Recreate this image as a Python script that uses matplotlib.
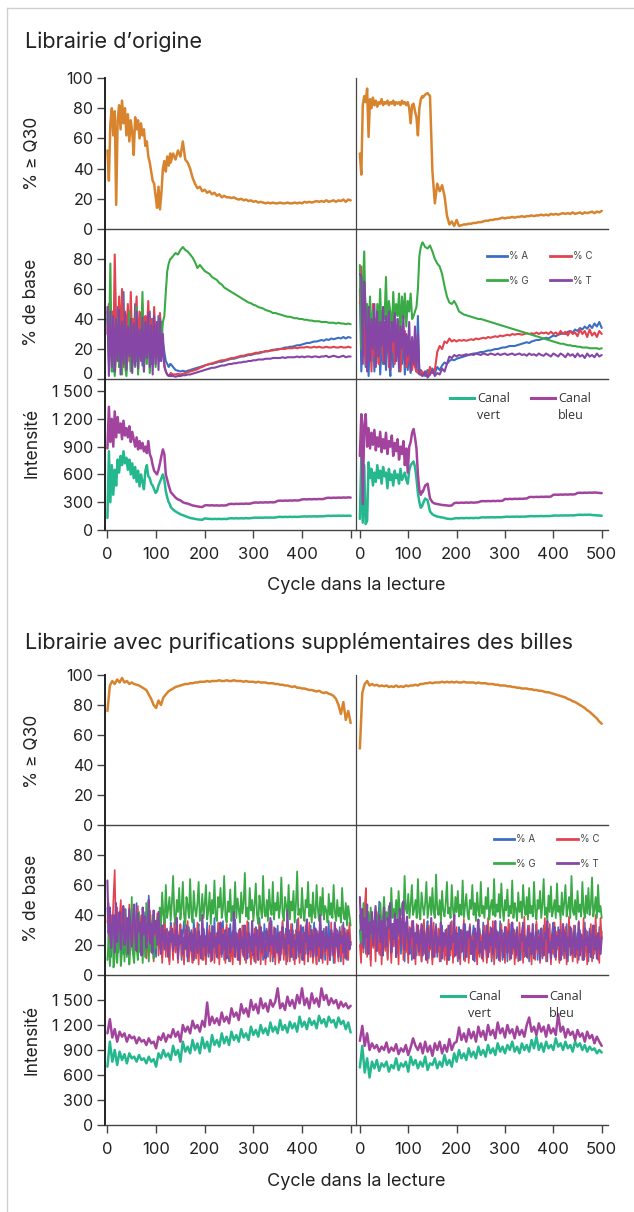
import matplotlib
matplotlib.use("Agg")
import matplotlib.pyplot as plt
import matplotlib.transforms as mtransforms
from matplotlib.lines import Line2D

plt.rcParams['font.family'] = ['Inter', 'DejaVu Sans']

# ---------------- data ----------------
# cycle grids (x values)
cycles_top = list(range(0, 130, 3)) + list(range(130, 501, 5))
cycles_bot = list(range(0, 501, 5))
cycles_bot_fine = [i * 2.5 for i in range(201)]

# ===== Panel 1 : Librairie d'origine =====
q30_o_r1 = [52, 32, 70, 80, 62, 78, 16, 72, 82, 66,
            85, 70, 80, 62, 76, 58, 72, 64, 49, 74,
            66, 72, 60, 70, 62, 66, 55, 58, 48, 44,
            38, 32, 30, 22, 14, 28, 13, 24, 40, 45,
            38, 48, 42, 50] + [
            44, 50, 46, 52, 48, 58, 46, 44, 40, 34,
            30, 27, 28, 25, 26, 24, 25, 23, 24, 22,
            23, 21, 22, 21, 21, 20.5, 21, 20, 19.5, 20,
            19, 19.5, 18.5, 19, 18, 18.5, 17.5, 18, 17.5, 17,
            17.5, 17, 17.5, 17, 17, 17.5, 17, 17, 17.5, 17,
            17, 17.5, 17, 17.5, 17, 18, 17.5, 18, 17.5, 18,
            18.5, 18, 18.5, 18, 19, 18, 18.5, 19, 18, 19,
            18.5, 19.5, 18, 19.5, 19]
q30_o_r2 = [50, 36, 82, 88, 84, 93, 61, 86, 80, 87,
            82, 85, 81, 84, 83, 86, 82, 84, 83, 85,
            82, 84, 83, 85, 82, 84, 83, 84, 82, 85,
            83, 84, 82, 84, 80, 70, 82, 83, 78, 74,
            62, 80, 86, 88] + [
            87, 89, 90, 88, 38, 17, 30, 25, 29, 22,
            9, 3, 5, 2, 6, 2, 2.5, 3, 3, 3.5,
            3.5, 4, 4, 4.5, 4.5, 5, 5.5, 5.5, 6, 6,
            6.5, 6.5, 7, 7.5, 7, 7.5, 7.5, 8, 7.5, 8,
            8, 8.5, 8, 8.5, 8.5, 9, 8.5, 9, 9, 9.5,
            9, 9.5, 9, 10, 9.5, 10, 9.5, 10, 10.5, 10,
            10.5, 10, 11, 10, 10.5, 11, 10, 11, 10.5, 11,
            11.5, 10.5, 11.5, 11, 12]

base_o_r1_A = [40, 10, 30, 45, 5, 35, 20, 48, 8, 42,
               15, 58, 10, 38, 22, 45, 6, 40, 18, 50,
               12, 35, 25, 44, 9, 40, 16, 38, 28, 45,
               10, 40, 20, 35, 15, 42, 12, 38, 25, 18,
               12, 10, 8, 10] + [
               10, 8, 6, 5.5, 5, 5.5, 5, 5.5, 6, 6.5,
               7, 7.5, 8, 8.5, 9, 9.5, 10, 10, 10.5, 11,
               11.5, 11.5, 12, 12.5, 13, 13.5, 13.5, 14, 14.5, 15,
               15, 15.5, 16, 16, 16.5, 17, 17, 17.5, 18, 18.5,
               18.5, 19, 19.5, 19.5, 20, 20, 20.5, 21, 21, 21.5,
               21.5, 22, 22.5, 22.5, 23, 23.5, 24, 24, 24.5, 25,
               25, 25.5, 26, 25.5, 26.5, 26, 27, 26.5, 27, 27.5,
               27, 28, 27, 28, 27.5]
base_o_r1_C = [30, 50, 20, 45, 10, 83, 35, 15, 55, 25,
               60, 8, 45, 30, 50, 12, 58, 20, 40, 35,
               55, 15, 45, 25, 50, 10, 42, 30, 52, 18,
               40, 12, 48, 22, 38, 15, 44, 28, 20, 10,
               5, 3, 2, 2] + [
               4, 3, 3, 3.5, 3, 3.5, 4, 4.5, 5, 5.5,
               6, 6.5, 7.5, 8, 9, 9.5, 10, 10.5, 11, 11.5,
               12, 12.5, 12.5, 13, 13.5, 14, 14, 14.5, 15, 15.5,
               15.5, 16, 16.5, 16.5, 17, 17.5, 17.5, 18, 18, 18.5,
               18.5, 19, 19, 19.5, 19.5, 20, 20, 20, 20.5, 20.5,
               20.5, 21, 20.5, 21, 21, 21, 21.5, 21, 21, 21.5,
               21, 21.5, 21, 21, 21.5, 21, 21, 21.5, 21, 21,
               21.5, 21, 21, 21.5, 21]
base_o_r1_G = [45, 20, 77, 5, 30, 2, 15, 40, 8, 25,
               3, 35, 10, 2, 20, 45, 5, 28, 12, 8,
               48, 3, 25, 15, 58, 5, 30, 10, 38, 4,
               20, 12, 35, 8, 30, 15, 40, 25, 38, 42,
               58, 72, 77, 80] + [
               80, 82, 84, 83, 86, 88, 86, 85, 83, 81,
               78, 74, 76, 74, 72, 71, 70, 68, 67, 66,
               64, 63, 61, 60, 59, 58, 57, 56, 55, 54,
               53, 52, 51, 50.5, 49.5, 49, 48, 47.5, 47, 46,
               45.5, 45, 44, 44, 43.5, 43, 42.5, 42, 41.5, 41.5,
               41, 40.5, 40.5, 40, 40, 39.5, 39.5, 39, 39, 38.5,
               38.5, 38.5, 38, 38, 38, 37.5, 37.5, 37.5, 37, 37.5,
               37, 37, 36.5, 37, 36.5]
base_o_r1_T = [48, 2, 45, 8, 42, 5, 40, 12, 46, 3,
               38, 10, 44, 6, 35, 15, 40, 4, 37, 9,
               45, 7, 33, 12, 41, 5, 38, 14, 44, 8,
               36, 3, 42, 10, 38, 6, 40, 12, 30, 8,
               5, 3, 2, 3] + [
               2, 2, 1.5, 2, 2, 2.5, 2.5, 3, 3, 3.5,
               4, 4.5, 5, 5.5, 6, 6.5, 7, 7.5, 7.5, 8,
               8.5, 9, 9, 9.5, 10, 10, 10.5, 10.5, 11, 11,
               11.5, 11.5, 12, 12, 12.5, 12.5, 13, 13, 13, 13.5,
               13.5, 13.5, 14, 14, 14, 14, 14.5, 14, 14.5, 14.5,
               14.5, 14.5, 15, 14.5, 15, 14.5, 15, 15, 14.5, 15,
               15, 14.5, 15, 15, 15.5, 14.5, 15, 15.5, 15, 14.5,
               15, 15.5, 14.5, 15, 15]

base_o_r2_A = [60, 5, 40, 25, 8, 45, 2, 30, 12, 35,
               5, 28, 15, 40, 3, 25, 10, 38, 6, 30,
               15, 2, 35, 8, 25, 12, 40, 5, 20, 10,
               32, 3, 28, 6, 22, 4, 15, 10, 20, 5,
               42, 3, 6, 3] + [
               4, 2, 6, 3, 7, 4, 8, 6, 9, 11,
               10, 12, 13, 12.5, 13.5, 14, 14.5, 15, 15.5, 16,
               16.5, 17, 17, 17.5, 18, 18, 18.5, 19, 19, 19.5,
               20, 20, 20.5, 21, 21, 21.5, 22, 22, 22, 22.5,
               23, 23.5, 24, 24.5, 24, 25, 25.5, 26, 26, 26.5,
               27, 27.5, 27, 28, 29, 28.5, 29.5, 30, 30.5, 30,
               31.5, 32, 31, 33, 32, 34, 33, 35, 33.5, 36,
               34, 37, 35, 38, 34]
base_o_r2_C = [50, 75, 30, 55, 10, 45, 20, 38, 5, 50,
               15, 40, 25, 10, 45, 30, 12, 35, 20, 42,
               8, 30, 18, 45, 10, 28, 15, 38, 5, 25,
               20, 32, 8, 18, 12, 25, 6, 15, 8, 5,
               4, 6, 3, 5] + [
               3, 5, 2, 8, 4, 6, 18, 22, 20, 25,
               24, 27, 25, 26, 25, 26, 25.5, 26, 25.5, 26,
               26.5, 26, 27, 26.5, 27, 27.5, 27, 28, 27.5, 28,
               28.5, 28, 29, 28.5, 29, 29.5, 29, 30, 29.5, 30,
               30, 29.5, 30, 30.5, 30, 30.5, 30, 31, 30, 31,
               30.5, 31, 30, 31.5, 30, 31, 29.5, 32, 30, 31.5,
               29, 32, 30, 31, 28.5, 33, 30, 32, 28, 33,
               29, 31, 28, 32, 30]
base_o_r2_G = [76, 20, 60, 85, 35, 50, 25, 55, 30, 45,
               40, 20, 50, 35, 60, 25, 48, 40, 68, 30,
               52, 45, 28, 58, 38, 50, 42, 57, 30, 55,
               40, 57, 35, 52, 45, 57, 40, 42, 45, 48,
               60, 82, 88, 91] + [
               91, 88, 87, 89, 85, 80, 77, 75, 70, 62,
               55, 51, 50, 52, 49, 45, 44, 43, 42.5, 42,
               41.5, 41, 40.5, 40, 40, 39.5, 39, 38.5, 38, 37.5,
               37, 36.5, 36, 35.5, 35, 34.5, 34, 33.5, 33, 32.5,
               32, 31.5, 31, 30.5, 30, 29.5, 29, 28.5, 28, 27.5,
               27, 26.5, 26, 25.5, 25, 24.5, 24, 23.5, 23.5, 23,
               22.5, 22.5, 22, 22, 21.5, 21.5, 21, 21, 21, 20.5,
               20.5, 20.5, 20.5, 20, 20.5]
base_o_r2_T = [70, 68, 10, 65, 45, 5, 48, 12, 40, 20,
               50, 8, 45, 15, 38, 22, 48, 10, 42, 18,
               45, 6, 38, 25, 44, 12, 40, 8, 35, 20,
               42, 10, 30, 15, 38, 5, 28, 10, 35, 8,
               30, 4, 3, 2] + [
               2, 5, 1, 3, 6, 2, 4, 3, 7, 5,
               10, 15, 14, 16, 15, 16, 15.5, 16, 16.5, 16,
               16.5, 16, 17, 16.5, 16, 17, 16.5, 16, 17, 16.5,
               16, 17, 16, 16.5, 17, 16, 16.5, 17, 16, 16.5,
               17, 16, 16.5, 15.5, 17, 16, 16.5, 15.5, 17, 16,
               15.5, 17, 16, 15, 17, 16, 15, 17, 16, 14.5,
               17, 15.5, 16.5, 14.5, 17, 15, 16, 14, 17, 15,
               16, 14.5, 17, 15, 16]

int_o_r1_vert = [130, 850, 300, 700, 380, 650, 480, 760, 620, 800,
                 700, 850, 720, 780, 650, 760, 600, 720, 560, 680,
                 520, 640, 470, 600, 520, 440, 640, 700, 580, 560,
                 500, 480, 440, 400, 420, 480, 520, 560, 600, 540,
                 420, 350, 300, 270] + [
                 250, 220, 200, 185, 170, 160, 150, 140, 130, 125,
                 120, 115, 112, 110, 125, 122, 120, 118, 120, 118,
                 120, 118, 120, 118, 125, 127, 125, 127, 125, 127,
                 125, 128, 126, 128, 132, 134, 132, 134, 132, 135,
                 133, 135, 133, 135, 140, 142, 140, 142, 140, 143,
                 141, 143, 141, 143, 145, 147, 145, 147, 146, 148,
                 146, 148, 147, 149, 152, 154, 152, 154, 153, 155,
                 153, 155, 153, 155, 153]
int_o_r1_bleu = [880, 1330, 950, 1200, 900, 1280, 1000, 1220, 1050, 1150,
                 980, 1180, 1020, 1100, 1000, 1120, 950, 1060, 980, 900,
                 1000, 870, 960, 880, 940, 850, 900, 830, 960, 820,
                 780, 700, 640, 620, 600, 650, 720, 800, 870, 820,
                 600, 540, 480, 430] + [
                 410, 380, 350, 330, 320, 300, 290, 285, 275, 265,
                 260, 255, 250, 248, 265, 268, 265, 267, 264, 266,
                 263, 266, 264, 267, 280, 282, 280, 283, 281, 284,
                 282, 285, 283, 286, 295, 297, 295, 298, 296, 299,
                 297, 300, 298, 301, 315, 317, 315, 318, 316, 319,
                 317, 320, 318, 321, 330, 332, 330, 333, 331, 334,
                 332, 335, 333, 336, 346, 348, 346, 349, 347, 350,
                 348, 351, 349, 352, 350]
int_o_r2_vert = [120, 800, 80, 700, 65, 100, 730, 560, 660, 480,
                 620, 520, 700, 560, 640, 500, 680, 580, 620, 450,
                 660, 540, 600, 480, 640, 560, 600, 500, 660, 540,
                 580, 620, 540, 500, 640, 700, 720, 740, 680, 560,
                 400, 300, 240, 260] + [
                 280, 340, 320, 200, 170, 155, 145, 140, 135, 130,
                 122, 120, 118, 125, 128, 126, 129, 127, 130, 128,
                 130, 128, 131, 129, 135, 137, 135, 137, 136, 138,
                 136, 138, 137, 139, 142, 144, 142, 144, 143, 145,
                 143, 145, 144, 146, 148, 150, 148, 150, 149, 151,
                 149, 151, 150, 152, 155, 157, 155, 157, 156, 158,
                 156, 158, 157, 159, 163, 165, 163, 165, 164, 166,
                 162, 160, 158, 156, 154]
int_o_r2_bleu = [800, 1250, 280, 1130, 1250, 900, 1100, 880, 1050, 920,
                 1080, 860, 1000, 900, 1060, 840, 980, 880, 1050, 820,
                 960, 900, 1020, 800, 940, 850, 980, 760, 900, 820,
                 960, 700, 880, 620, 900, 950, 1050, 1090, 1000, 880,
                 600, 430, 380, 420] + [
                 410, 480, 500, 340, 300, 285, 280, 275, 270, 268,
                 265, 262, 265, 290, 295, 292, 296, 293, 297, 294,
                 298, 295, 297, 300, 310, 312, 310, 313, 311, 314,
                 312, 315, 313, 316, 335, 333, 336, 334, 337, 335,
                 338, 336, 339, 340, 355, 357, 355, 358, 356, 359,
                 357, 360, 358, 361, 380, 382, 380, 383, 381, 384,
                 382, 385, 383, 386, 400, 402, 400, 403, 401, 404,
                 402, 405, 403, 400, 398]

# ===== Panel 2 : Librairie avec purifications supplementaires =====
q30_p_r1 = [76, 93, 96, 94, 97, 95, 98, 95, 96, 94,
            95, 94, 93.5, 93, 92, 91, 90, 87, 84, 80,
            78, 83, 80, 85, 87, 89, 90, 91, 92, 92.5,
            93, 93.5, 94, 94, 94.5, 94.5, 95, 95, 95.5, 95.5,
            95.5, 96, 95.5, 96, 96, 96, 96.5, 96, 96, 96.5,
            96, 96, 96.5, 96, 96, 96, 95.5, 96, 95.5, 95.5,
            95.5, 95, 95.5, 95, 95, 95, 94.5, 94.5, 94.5, 94,
            94, 93.5, 93.5, 93, 93, 92.5, 92, 92.5, 91.5, 91.5,
            91, 91, 90.5, 90, 90, 89.5, 89, 89.5, 88.5, 88,
            88.5, 87.5, 87, 86, 84, 80, 74, 82, 70, 76,
            68]
q30_p_r2 = [51, 88, 94, 96, 93, 94, 93, 93.5, 92.5, 93,
            92.5, 93, 92, 92.5, 92, 93, 92, 92.5, 92, 93,
            92.5, 93, 93, 93.5, 93, 94, 94, 94.5, 94.5, 95,
            94.5, 95, 95, 95, 95.5, 95, 95.5, 95, 95.5, 95,
            95.5, 95, 95, 95.5, 95, 95, 95, 95, 94.5, 95,
            94.5, 94.5, 94.5, 94, 94, 94, 93.5, 93.5, 93, 93,
            93, 92.5, 92.5, 92, 92, 91.5, 91.5, 91, 91, 91,
            90.5, 90.5, 90, 90, 89.5, 89.5, 89, 88.5, 88.5, 88,
            87.5, 87, 86.5, 86, 85.5, 85, 84, 83.5, 82.5, 82,
            81, 80, 79, 78, 76.5, 75.5, 74, 72.5, 71, 69,
            67.5]

base_p_r1_A = [45, 20, 36, 12, 30, 40, 18, 26, 42, 15,
               33, 24, 38, 14, 29, 44, 19, 35, 12, 28,
               40, 16, 31, 25, 48, 13, 34, 22, 37, 18,
               27, 42, 15, 30, 53, 20, 36, 14, 32, 24,
               12, 38, 26, 18, 34, 11, 29, 40, 16, 31,
               22, 9, 35, 27, 14, 30, 20, 38, 12, 25,
               33, 10, 28, 36, 17, 24, 9, 32, 21, 30,
               14, 37, 23, 11, 29, 34, 16, 26, 10, 31,
               25, 18, 35, 12, 27, 9, 33, 20, 38, 15,
               28, 11, 30, 24, 16, 36, 10, 26, 32, 19,
               9, 34, 22, 29, 13, 37, 18, 25, 11, 31,
               27, 15, 33, 10, 28, 21, 35, 12, 24, 30,
               17, 9, 32, 26, 14, 38, 20, 29, 10, 34,
               23, 31, 12, 27, 18, 36, 9, 30, 25, 15,
               33, 11, 28, 20, 35, 13, 26, 31, 9, 24,
               30, 16, 34, 10, 27, 22, 37, 12, 29, 19,
               10, 32, 24, 14, 36, 9, 28, 33, 17, 26,
               35, 12, 30, 21, 9, 34, 25, 15, 31, 10,
               27, 18, 36, 11, 29, 23, 8, 33, 20, 30,
               14, 32, 9, 26, 35, 12, 28, 10, 30, 22,
               20]
base_p_r1_C = [35, 48, 22, 40, 30, 52, 70, 25, 45, 18,
               38, 50, 20, 33, 44, 15, 36, 28, 47, 16,
               30, 42, 12, 35, 24, 46, 18, 32, 40, 14,
               27, 38, 11, 34, 22, 43, 15, 30, 9, 36,
               20, 41, 13, 28, 33, 8, 25, 37, 12, 30,
               18, 7, 32, 24, 10, 35, 15, 28, 8, 26,
               34, 12, 22, 7, 30, 19, 36, 9, 27, 15,
               8, 31, 23, 11, 35, 7, 26, 18, 32, 10,
               24, 7, 29, 14, 33, 9, 21, 30, 8, 27,
               16, 35, 7, 25, 12, 31, 20, 8, 34, 13,
               28, 9, 23, 7, 32, 17, 26, 10, 30, 7,
               21, 33, 12, 27, 8, 36, 15, 24, 7, 29,
               11, 31, 8, 25, 19, 34, 7, 28, 13, 22,
               7, 30, 16, 35, 9, 26, 12, 32, 7, 24,
               18, 8, 29, 14, 36, 10, 27, 7, 31, 20,
               9, 34, 12, 26, 7, 30, 17, 38, 8, 25,
               13, 28, 7, 33, 21, 9, 35, 12, 27, 8,
               30, 15, 7, 29, 11, 34, 19, 8, 26, 14,
               32, 7, 24, 10, 35, 13, 28, 8, 31, 17,
               9, 27, 12, 33, 7, 25, 16, 30, 10, 35,
               20]
base_p_r1_G = [10, 25, 6, 18, 35, 5, 12, 40, 8, 22,
               30, 6, 15, 45, 9, 28, 12, 38, 7, 20,
               52, 14, 8, 33, 18, 10, 42, 15, 26, 8,
               35, 12, 48, 20, 9, 30, 16, 40, 11, 25,
               18, 38, 28, 45, 32, 55, 40, 35, 60, 38,
               44, 52, 36, 48, 66, 40, 34, 50, 42, 58,
               37, 45, 62, 40, 33, 52, 46, 38, 64, 41,
               35, 56, 44, 39, 48, 62, 36, 42, 54, 38,
               47, 60, 37, 43, 55, 34, 50, 41, 63, 39,
               36, 52, 45, 58, 38, 44, 66, 40, 35, 49,
               42, 57, 36, 46, 40, 62, 38, 51, 44, 35,
               55, 41, 48, 68, 39, 45, 37, 58, 43, 50,
               36, 47, 61, 40, 34, 53, 45, 38, 66, 42,
               39, 50, 36, 57, 44, 40, 62, 37, 48, 43,
               55, 38, 45, 65, 41, 36, 52, 46, 39, 60,
               37, 49, 43, 56, 35, 47, 69, 40, 44, 38,
               58, 42, 36, 50, 45, 62, 39, 47, 35, 55,
               41, 38, 60, 44, 36, 52, 40, 58, 37, 46,
               43, 35, 54, 40, 48, 38, 60, 42, 36, 50,
               39, 45, 35, 58, 41, 37, 48, 33, 46, 40,
               33]
base_p_r1_T = [63, 28, 45, 18, 33, 40, 15, 48, 22, 36,
               42, 17, 30, 46, 20, 26, 38, 14, 44, 31,
               19, 37, 47, 24, 16, 41, 29, 35, 13, 45,
               27, 39, 18, 32, 50, 21, 34, 15, 43, 28,
               36, 20, 42, 25, 14, 33, 28, 17, 30, 24,
               12, 29, 22, 31, 16, 27, 20, 38, 11, 26,
               21, 30, 14, 25, 18, 33, 12, 24, 28, 16,
               27, 10, 31, 20, 15, 29, 23, 11, 40, 19,
               26, 13, 30, 22, 15, 28, 10, 32, 19, 25,
               12, 29, 21, 35, 14, 27, 17, 30, 11, 24,
               31, 15, 26, 19, 42, 12, 28, 22, 10, 30,
               18, 25, 13, 33, 21, 11, 28, 24, 16, 36,
               13, 27, 20, 30, 10, 24, 32, 15, 28, 19,
               11, 29, 23, 16, 38, 20, 26, 12, 31, 22,
               15, 28, 10, 25, 32, 18, 24, 14, 43, 21,
               27, 12, 30, 19, 23, 11, 29, 25, 15, 33,
               20, 10, 28, 22, 37, 14, 26, 17, 30, 12,
               24, 31, 13, 27, 19, 40, 11, 29, 22, 16,
               32, 18, 25, 10, 30, 23, 14, 35, 19, 27,
               12, 29, 21, 26, 15, 31, 11, 24, 28, 17,
               22]

base_p_r2_A = [30, 12, 38, 20, 45, 14, 33, 26, 40, 10,
               35, 22, 28, 42, 16, 31, 49, 13, 27, 36,
               18, 34, 24, 11, 38, 29, 15, 32, 22, 40,
               12, 30, 26, 36, 14, 33, 20, 9, 35, 24,
               28, 16, 31, 10, 34, 22, 27, 13, 30, 18,
               25, 9, 33, 21, 14, 29, 36, 11, 26, 31,
               10, 28, 19, 34, 12, 25, 30, 9, 33, 16,
               27, 13, 31, 22, 10, 35, 18, 28, 12, 30,
               21, 9, 32, 26, 15, 29, 10, 34, 20, 27,
               11, 30, 17, 25, 33, 9, 28, 22, 14, 31,
               24, 12, 35, 18, 27, 10, 30, 16, 32, 9,
               26, 20, 33, 11, 29, 14, 36, 21, 10, 28,
               17, 31, 9, 25, 34, 13, 27, 19, 30, 11,
               32, 15, 24, 10, 29, 35, 12, 26, 18, 33,
               9, 28, 21, 31, 13, 26, 34, 10, 30, 16,
               25, 11, 33, 19, 27, 9, 31, 22, 14, 29,
               35, 12, 26, 17, 32, 10, 28, 24, 13, 30,
               19, 34, 9, 27, 22, 31, 11, 25, 33, 14,
               28, 10, 30, 20, 26, 12, 35, 16, 29, 9,
               31, 18, 25, 11, 33, 21, 27, 10, 32, 15,
               29]
base_p_r2_C = [20, 8, 35, 15, 45, 58, 12, 40, 25, 6,
               38, 18, 30, 9, 42, 22, 14, 35, 7, 28,
               40, 16, 32, 10, 36, 24, 8, 30, 19, 34,
               12, 27, 7, 33, 21, 38, 10, 29, 15, 25,
               8, 32, 18, 36, 11, 26, 7, 34, 20, 13,
               30, 9, 24, 37, 14, 28, 8, 33, 17, 22,
               7, 35, 12, 26, 19, 31, 9, 38, 15, 24,
               10, 29, 7, 33, 22, 13, 36, 8, 27, 18,
               32, 11, 25, 7, 30, 16, 37, 9, 23, 28,
               8, 34, 14, 26, 10, 31, 20, 7, 35, 12,
               27, 18, 9, 33, 24, 8, 38, 15, 29, 11,
               36, 7, 22, 30, 12, 27, 9, 34, 17, 25,
               8, 32, 19, 37, 10, 26, 14, 31, 7, 28,
               21, 9, 35, 16, 29, 8, 39, 13, 24, 11,
               33, 18, 7, 30, 22, 10, 36, 15, 27, 8,
               31, 12, 25, 38, 9, 28, 17, 34, 7, 23,
               14, 35, 10, 29, 20, 8, 37, 16, 26, 11,
               32, 7, 24, 39, 13, 28, 9, 33, 18, 22,
               8, 36, 15, 27, 10, 38, 12, 30, 7, 25,
               19, 34, 9, 28, 14, 40, 11, 26, 8, 38,
               25]
base_p_r2_G = [40, 22, 35, 48, 28, 38, 25, 42, 30, 45,
               26, 36, 32, 44, 28, 40, 35, 48, 30, 38,
               52, 34, 42, 36, 46, 32, 58, 38, 44, 40,
               50, 36, 56, 42, 40, 48, 38, 66, 44, 41,
               54, 38, 47, 60, 40, 44, 50, 38, 64, 42,
               37, 55, 46, 40, 48, 62, 38, 45, 52, 40,
               58, 42, 38, 67, 44, 40, 50, 36, 56, 43,
               39, 48, 62, 41, 45, 38, 60, 44, 36, 52,
               42, 56, 39, 47, 40, 63, 38, 46, 54, 41,
               37, 50, 44, 60, 40, 48, 36, 55, 43, 39,
               62, 41, 46, 38, 52, 44, 58, 37, 45, 50,
               40, 64, 39, 47, 42, 54, 38, 61, 44, 36,
               50, 43, 57, 39, 46, 41, 63, 38, 48, 44,
               36, 55, 42, 49, 38, 60, 45, 40, 52, 37,
               58, 41, 46, 39, 62, 43, 37, 50, 44, 56,
               38, 47, 64, 40, 45, 36, 53, 42, 59, 39,
               44, 50, 38, 61, 42, 46, 37, 55, 40, 48,
               60, 39, 45, 52, 38, 66, 43, 40, 50, 37,
               56, 42, 47, 39, 62, 44, 38, 53, 41, 58,
               40, 46, 65, 39, 44, 52, 38, 60, 42, 46,
               38]
base_p_r2_T = [52, 30, 44, 18, 38, 25, 47, 14, 35, 28,
               42, 20, 33, 46, 16, 29, 40, 22, 36, 13,
               45, 27, 19, 38, 31, 48, 15, 34, 24, 41,
               12, 37, 28, 44, 20, 33, 49, 17, 30, 39,
               23, 14, 31, 26, 36, 11, 28, 21, 33, 16,
               25, 34, 13, 29, 22, 10, 31, 24, 18, 38,
               22, 12, 27, 32, 15, 25, 20, 35, 11, 28,
               19, 30, 24, 10, 33, 17, 26, 22, 40, 13,
               28, 20, 11, 30, 24, 16, 34, 21, 12, 29,
               25, 32, 14, 23, 10, 31, 18, 27, 37, 15,
               22, 11, 29, 25, 17, 33, 12, 27, 20, 31,
               14, 24, 36, 18, 28, 10, 23, 30, 19, 12,
               32, 22, 15, 29, 25, 11, 35, 18, 26, 13,
               30, 20, 10, 27, 23, 33, 16, 24, 12, 31,
               19, 27, 14, 34, 11, 22, 29, 17, 25, 10,
               31, 21, 13, 28, 24, 36, 15, 22, 11, 27,
               18, 32, 12, 26, 20, 30, 10, 23, 34, 16,
               28, 11, 25, 19, 32, 14, 22, 29, 12, 24,
               17, 35, 13, 27, 22, 10, 31, 20, 25, 15,
               29, 12, 24, 33, 17, 26, 11, 28, 21, 14,
               25]

int_p_r1_vert = [700, 1000, 760, 900, 720, 880, 780, 850, 740, 860,
                 800, 820, 760, 840, 780, 800, 740, 820, 760, 790,
                 700, 860, 800, 900, 820, 860, 780, 950, 840, 900,
                 760, 1000, 880, 940, 860, 1020, 900, 980, 860, 1050,
                 920, 1000, 880, 1080, 960, 1020, 940, 1100, 980, 1060,
                 960, 1120, 1020, 1080, 1000, 1150, 1050, 1100, 1020, 1180,
                 1080, 1140, 1060, 1200, 1100, 1160, 1080, 1230, 1120, 1180,
                 1100, 1260, 1140, 1200, 1110, 1240, 1160, 1220, 1120, 1300,
                 1180, 1240, 1150, 1280, 1200, 1250, 1160, 1310, 1220, 1270,
                 1180, 1300, 1230, 1260, 1170, 1290, 1210, 1250, 1150, 1230,
                 1110]
int_p_r1_bleu = [1100, 1270, 1050, 1150, 1000, 1120, 1060, 1100, 1000, 1080,
                 1040, 1060, 980, 1050, 1000, 1020, 960, 1040, 980, 1000,
                 920, 1060, 1020, 1100, 1000, 1080, 1050, 1150, 1060, 1120,
                 1000, 1200, 1120, 1180, 1100, 1250, 1160, 1200, 1120, 1250,
                 1180, 1470, 1200, 1300, 1220, 1280, 1200, 1350, 1240, 1300,
                 1220, 1400, 1300, 1350, 1260, 1450, 1340, 1400, 1300, 1500,
                 1380, 1450, 1340, 1520, 1400, 1460, 1360, 1500, 1420, 1480,
                 1640, 1400, 1460, 1380, 1540, 1430, 1500, 1400, 1560, 1460,
                 1640, 1440, 1520, 1400, 1580, 1460, 1520, 1420, 1640, 1500,
                 1560, 1440, 1520, 1460, 1500, 1400, 1480, 1420, 1460, 1400,
                 1430]
int_p_r2_vert = [690, 950, 630, 800, 570, 760, 680, 780, 650, 740,
                 700, 760, 640, 720, 680, 800, 660, 740, 700, 760,
                 640, 820, 720, 780, 680, 760, 700, 820, 660, 740,
                 720, 800, 680, 760, 700, 840, 720, 780, 700, 860,
                 760, 900, 800, 860, 780, 920, 820, 880, 800, 940,
                 840, 900, 820, 960, 860, 920, 840, 980, 880, 940,
                 860, 960, 900, 1000, 880, 940, 860, 980, 900, 960,
                 880, 1020, 920, 1060, 900, 980, 880, 1000, 920, 960,
                 900, 1040, 940, 980, 900, 1000, 920, 960, 880, 1000,
                 940, 980, 900, 960, 880, 940, 900, 920, 860, 900,
                 870]
int_p_r2_bleu = [1010, 1190, 950, 1100, 900, 980, 920, 960, 880, 940,
                 900, 990, 870, 930, 890, 970, 850, 920, 880, 960,
                 840, 930, 1040, 950, 900, 980, 860, 1000, 880, 950,
                 830, 980, 900, 1000, 860, 960, 880, 1030, 900, 980,
                 1000, 1170, 1020, 1100, 1000, 1150, 1040, 1120, 1000, 1180,
                 1060, 1130, 1020, 1200, 1080, 1140, 1040, 1230, 1100, 1160,
                 1050, 1200, 1100, 1150, 1040, 1180, 1080, 1140, 1060, 1200,
                 1290, 1120, 1180, 1080, 1220, 1120, 1180, 1060, 1200, 1100,
                 1160, 1080, 1330, 1120, 1180, 1050, 1150, 1080, 1120, 1020,
                 1140, 1060, 1100, 1000, 1120, 1040, 1080, 980, 1060, 1000,
                 950]

# labels / ticks
titles = ["Librairie d\u2019origine", "Librairie avec purifications suppl\u00e9mentaires des billes"]
ylabels = ["% \u2265 Q30", "% de base", "Intensit\u00e9"]
base_labels = ["% A", "% C", "% G", "% T"]
int_labels = ["Canal", "Canal"]
int_labels2 = ["vert", "bleu"]
xlabel = "Cycle dans la lecture"
q30_ticks = [0, 20, 40, 60, 80, 100]
base_ticks = [0, 20, 40, 60, 80]
int_ticks = [0, 300, 600, 900, 1200, 1500]
int_ticklabels = ["0", "300", "600", "900", "1 200", "1 500"]
x_ticks = [0, 100, 200, 300, 400, 500]

# ---------------- style ----------------
C_Q30 = "#D8842F"
C_A = "#3C6EC4"
C_C = "#E2434E"
C_G = "#3AAA46"
C_T = "#8646A6"
C_VERT = "#25B88E"
C_BLEU = "#A2449E"
TXT = "#222222"

W, H = 634, 1212
fig = plt.figure(figsize=(W / 100, H / 100), dpi=100)
fig.patch.set_facecolor("white")

# light frame (top and left edges)
fig.add_artist(Line2D([7 / W, 1.0], [1 - 8 / H, 1 - 8 / H], transform=fig.transFigure,
                      color="#cfcfcf", lw=1.0))
fig.add_artist(Line2D([7 / W, 7 / W], [0.0, 1 - 8 / H], transform=fig.transFigure,
                      color="#cfcfcf", lw=1.0))

COLS = [(105, 356, (-5, 511)), (356, 608, (-8, 513))]


def make_ax(x0, x1, y0, y1):
    return fig.add_axes([x0 / W, 1 - y1 / H, (x1 - x0) / W, (y1 - y0) / H])


def style_ax(ax, col, is_bottom):
    for s in ("top", "right"):
        ax.spines[s].set_visible(False)
    if col == 0:
        ax.spines["left"].set_linewidth(1.4)
        ax.spines["left"].set_color("#222222")
    else:
        ax.spines["left"].set_linewidth(0.9)
        ax.spines["left"].set_color("#444444")
    ax.spines["bottom"].set_linewidth(1.0)
    ax.spines["bottom"].set_color("#444444")
    ax.tick_params(axis="y", direction="out", length=6, width=1.0, color="#444444",
                   labelsize=11.5, labelcolor=TXT, pad=2.5,
                   left=(col == 0), labelleft=(col == 0))
    ax.tick_params(axis="x", direction="out", length=6, width=1.0, color="#444444",
                   labelsize=12, labelcolor=TXT, pad=6,
                   bottom=is_bottom, labelbottom=is_bottom)
    ax.set_facecolor("none")


def line(ax, grid, vals, color, lw):
    ax.plot(grid[:len(vals)], vals, color=color, lw=lw, solid_joinstyle="round",
            solid_capstyle="round")


panels = [
    dict(rows=[(78, 229), (229, 379), (379, 530)], title_y=48, xlabel_y=585,
         grid=cycles_top, base_grid=cycles_top, int_ylim=1630, base_lw=[1.5, 1.5, 1.5, 1.5],
         q30=[q30_o_r1, q30_o_r2],
         base=[[base_o_r1_A, base_o_r1_C, base_o_r1_G, base_o_r1_T],
               [base_o_r2_A, base_o_r2_C, base_o_r2_G, base_o_r2_T]],
         inten=[[int_o_r1_vert, int_o_r1_bleu], [int_o_r2_vert, int_o_r2_bleu]],
         ylab_y=[153, 302, 443],
         base_leg=(487, 251), int_leg=(450, 392)),
    dict(rows=[(675, 825), (825, 975), (975, 1125)], title_y=649, xlabel_y=1182,
         grid=cycles_bot, base_grid=cycles_bot_fine, int_ylim=1800, base_lw=[1.2, 1.2, 1.3, 1.5],
         q30=[q30_p_r1, q30_p_r2],
         base=[[base_p_r1_A, base_p_r1_C, base_p_r1_G, base_p_r1_T],
               [base_p_r2_A, base_p_r2_C, base_p_r2_G, base_p_r2_T]],
         inten=[[int_p_r1_vert, int_p_r1_bleu], [int_p_r2_vert, int_p_r2_bleu]],
         ylab_y=[751, 898, 1040],
         base_leg=(494, 834), int_leg=(441, 990)),
]

int_legends = []
shift_zero_axes = []
for pi, P in enumerate(panels):
    grid = P["grid"]
    fig.text(25 / W, 1 - P["title_y"] / H, titles[pi], ha="left", va="baseline",
             fontsize=15.6, color=TXT)
    for ri, yl in enumerate(ylabels):
        fig.text(32 / W, 1 - P["ylab_y"][ri] / H, yl, rotation=90, ha="center",
                 va="center", fontsize=12.5, color=TXT)
    fig.text(356 / W, 1 - P["xlabel_y"] / H, xlabel, ha="center", va="center",
             fontsize=13, color=TXT)
    for ci, (x0, x1, xl) in enumerate(COLS):
        # Q30 row
        y0, y1 = P["rows"][0]
        ax = make_ax(x0, x1, y0, y1)
        style_ax(ax, ci, False)
        ax.set_xlim(*xl)
        ax.set_ylim(0, 100)
        ax.set_yticks(q30_ticks)
        line(ax, grid, P["q30"][ci], C_Q30, 1.8)

        # base row
        y0, y1 = P["rows"][1]
        ax = make_ax(x0, x1, y0, y1)
        style_ax(ax, ci, False)
        ax.set_xlim(*xl)
        ax.set_ylim(0, 100)
        ax.set_yticks(base_ticks)
        if ci == 0 and pi == 0:
            shift_zero_axes.append(ax)
        for vals, colr, lw in zip(P["base"][ci], [C_A, C_C, C_G, C_T], P["base_lw"]):
            line(ax, P["base_grid"], vals, colr, lw)
        if ci == 1:
            hA = Line2D([], [], color=C_A, lw=2)
            hC = Line2D([], [], color=C_C, lw=2)
            hG = Line2D([], [], color=C_G, lw=2)
            hT = Line2D([], [], color=C_T, lw=2)
            lx, ly = P["base_leg"]
            ax.legend([hA, hG, hC, hT], [base_labels[0], base_labels[2], base_labels[1], base_labels[3]],
                      ncol=2, loc="upper left", bbox_to_anchor=(lx / W, 1 - ly / H),
                      bbox_transform=fig.transFigure, frameon=False, fontsize=7,
                      labelcolor="#444444", handlelength=2.1, handletextpad=0.2,
                      columnspacing=2.2, labelspacing=1.5, borderpad=0, borderaxespad=0)

        # intensity row
        y0, y1 = P["rows"][2]
        ax = make_ax(x0, x1, y0, y1)
        style_ax(ax, ci, True)
        ax.set_xlim(*xl)
        ax.set_ylim(0, P["int_ylim"])
        ax.set_yticks(int_ticks)
        ax.set_yticklabels(int_ticklabels)
        ax.set_xticks(x_ticks)
        if ci == 0:
            ax.set_xticklabels(["0", "100", "200", "300", "400", ""])
        line(ax, grid, P["inten"][ci][0], C_VERT, 1.8)
        line(ax, grid, P["inten"][ci][1], C_BLEU, 1.8)
        if ci == 1:
            hv = Line2D([], [], color=C_VERT, lw=2.2)
            hb = Line2D([], [], color=C_BLEU, lw=2.2)
            lx, ly = P["int_leg"]
            leg = ax.legend([hv, hb], int_labels, ncol=2, loc="upper left",
                            bbox_to_anchor=(lx / W, 1 - ly / H), bbox_transform=fig.transFigure,
                            frameon=False, labelcolor="#333333",
                            handlelength=1.9, handletextpad=0.25, columnspacing=1.7,
                            borderpad=0, borderaxespad=0,
                            prop={"family": ["Open Sans", "DejaVu Sans"], "size": 9})
            int_legends.append(leg)

# second line of the intensity legend labels
fig.canvas.draw()
renderer = fig.canvas.get_renderer()
for leg in int_legends:
    for t, word in zip(leg.get_texts(), int_labels2):
        bb = t.get_window_extent(renderer)
        fig.text(bb.x0 / W, (bb.y0 - 17) / H, word, ha="left", va="bottom",
                 fontsize=9, color="#333333", family=["Open Sans", "DejaVu Sans"])

# the "0" of the upper "% de base" axis sits a little above its tick, as in the reference
for ax in shift_zero_axes:
    lab = ax.yaxis.get_major_ticks()[0].label1
    lab.set_verticalalignment("bottom")
    lab.set_transform(lab.get_transform() +
                      mtransforms.ScaledTranslation(0, -3 / 100, fig.dpi_scale_trans))

fig.savefig("out.png", dpi=100, facecolor="white")
